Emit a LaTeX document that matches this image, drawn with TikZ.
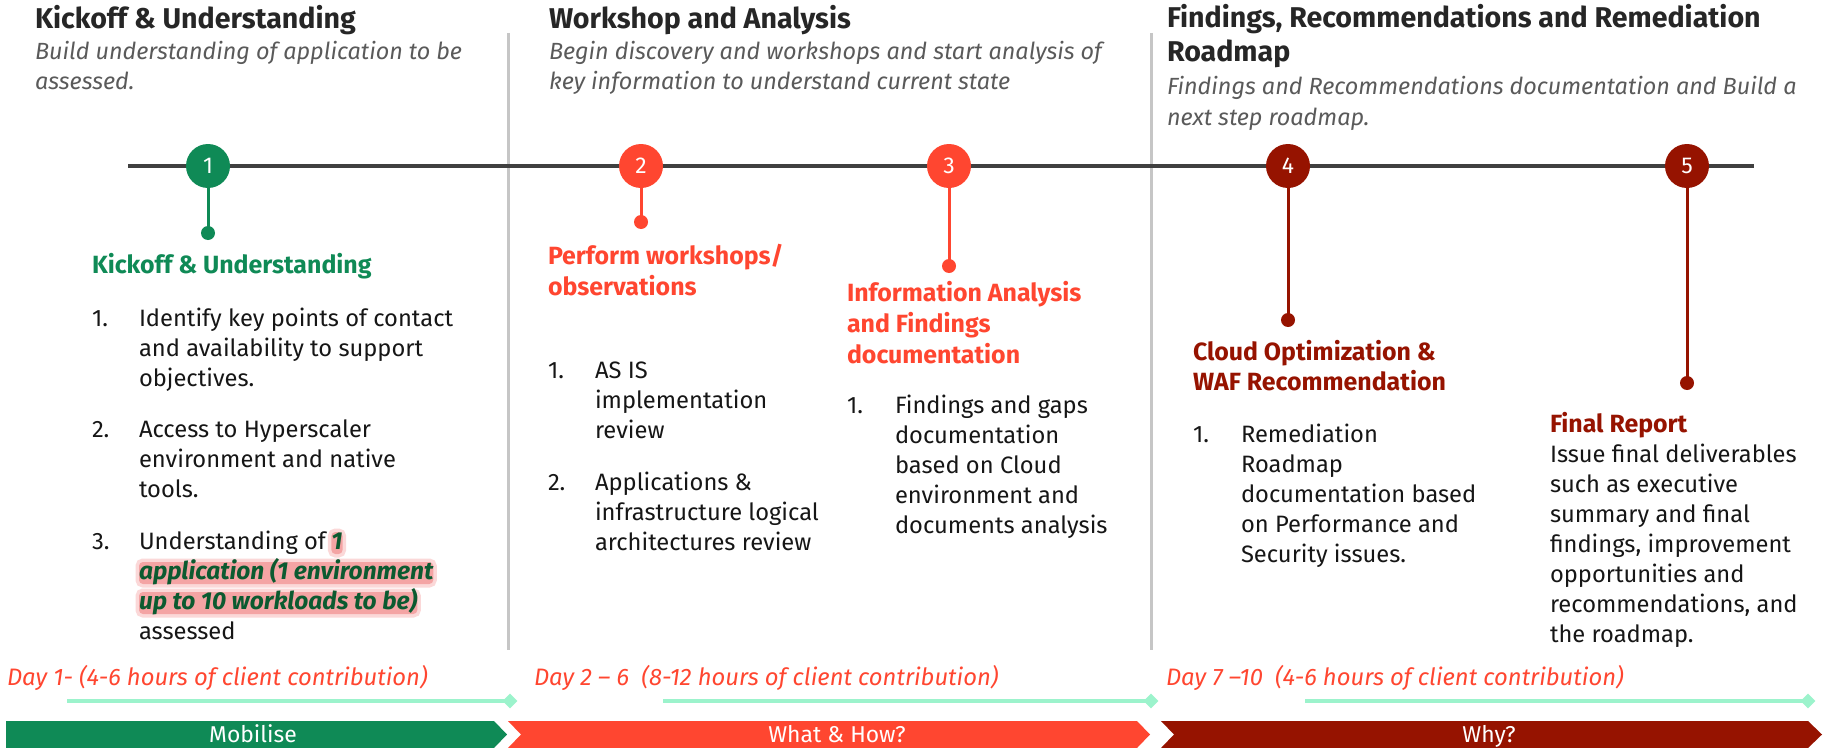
\documentclass[tikz,border=0pt]{standalone}
\usepackage{fontspec}
\setmainfont{Fira Sans}
\usetikzlibrary{shapes.geometric}
\definecolor{grn}{HTML}{0F8A56}
\definecolor{orng}{HTML}{FF4630}
\definecolor{dred}{HTML}{961300}
\definecolor{mint}{HTML}{9CF3CC}
\definecolor{ttlc}{HTML}{262626}
\definecolor{subc}{HTML}{5A5A5A}
\definecolor{bodyc}{HTML}{161616}
\definecolor{sepc}{HTML}{C6C6C6}
\definecolor{linec}{HTML}{404040}
\definecolor{hlgreen}{HTML}{0B5A30}
\definecolor{glowout}{HTML}{FBD8D8}
\definecolor{glowin}{HTML}{F4A4A4}
\newcommand\block[2]{\vtop{\baselineskip=#1bp\lineskiplimit=-1000pt\lineskip=0pt #2}}
\newcommand\li[1]{\hbox{#1}}
\begin{document}
\begin{tikzpicture}[x=1bp,y=-1bp,
  txt/.style={inner sep=0pt, outer sep=0pt, anchor=base west},
  ttl/.style={txt, font=\fontsize{28.7}{34}\selectfont\bfseries, text=ttlc},
  sub/.style={txt, font=\fontsize{23.5}{30}\selectfont\itshape, text=subc},
  hd/.style={txt, font=\fontsize{25}{30}\selectfont\bfseries},
  body/.style={txt, font=\fontsize{23.8}{30}\selectfont, text=bodyc},
  hl/.style={txt, font=\fontsize{24.6}{30}\selectfont\bfseries\itshape, text=hlgreen,
    text height=17bp, text depth=5bp, fill=glowin, rounded corners=4bp,
    preaction={draw=glowout, fill=glowout, line width=7bp, rounded corners=6bp}},
  day/.style={txt, font=\fontsize{23.9}{30}\selectfont\itshape, text=orng},
  ms/.style={circle, minimum size=44bp, inner sep=0pt, text=white, font=\fontsize{23}{23}\selectfont},
  dotn/.style={circle, minimum size=14bp, inner sep=0pt},
  stem/.style={line width=3bp},
  sepl/.style={line width=3bp, draw=sepc},
  mintl/.style={line width=4bp, draw=mint},
  mdia/.style={diamond, fill=mint, minimum size=15bp, inner sep=0pt},
  barlab/.style={inner sep=0pt, text=white, font=\fontsize{23}{22}\selectfont, anchor=base}]
\useasboundingbox (0,0) rectangle (1825,748);
\fill[white] (0,0) rectangle (1825,748);

% separators
\coordinate (sa1) at (508,33); \coordinate (sb1) at (508,650);
\coordinate (sa2) at (1151,33); \coordinate (sb2) at (1151,650);
\draw[sepl] (sa1) -- (sb1);
\draw[sepl] (sa2) -- (sb2);

% timeline
\coordinate (tla) at (128,166); \coordinate (tlb) at (1754,166);
\draw[line width=3.5bp, linec] (tla) -- (tlb);

% milestones
\node[dotn, fill=grn] (d1) at (208,233) {};
\node[dotn, fill=orng] (d2) at (641,222) {};
\node[dotn, fill=orng] (d3) at (949,266) {};
\node[dotn, fill=dred] (d4) at (1288,320) {};
\node[dotn, fill=dred] (d5) at (1687,383) {};
\node[ms, fill=grn] (m1) at (208,166) {1};
\node[ms, fill=orng] (m2) at (641,166) {2};
\node[ms, fill=orng] (m3) at (949,166) {3};
\node[ms, fill=dred] (m4) at (1288,166) {4};
\node[ms, fill=dred] (m5) at (1687,166) {5};
\draw[stem, grn] (m1) -- (d1.center);
\draw[stem, orng] (m2) -- (d2.center);
\draw[stem, orng] (m3) -- (d3.center);
\draw[stem, dred] (m4) -- (d4.center);
\draw[stem, dred] (m5) -- (d5.center);

% section titles
\node[ttl] (t1) at (35,29) {Kickoff \& Understanding};
\node[sub] (s1) at (35,60) {\block{30}{\li{Build understanding of application to be}\li{assessed.}}};
\node[ttl] (t2) at (549,29) {Workshop and Analysis};
\node[sub] (s2) at (549,60) {\block{30}{\li{Begin discovery and workshops and start analysis of}\li{key information to understand current state}}};
\node[ttl] (t3) at (1167,28) {\block{34}{\li{Findings, Recommendations and Remediation}\li{Roadmap}}};
\node[sub] (s3) at (1167,94) {\block{31}{\li{Findings and Recommendations documentation and Build a}\li{next step roadmap.}}};

% column 1
\node[hd, text=grn] (h1) at (92,273) {Kickoff \& Understanding};
\node[body] (n11) at (92,326) {1.};
\node[body] (b11) at (139,326) {\block{30}{\li{Identify key points of contact}\li{and availability to support}\li{objectives.}}};
\node[body] (n12) at (92,437) {2.};
\node[body] (b12) at (139,437) {\block{30}{\li{Access to Hyperscaler}\li{environment and native}\li{tools.}}};
\node[body] (n13) at (92,549) {3.};
\node[body] (b13a) at (139,549) {Understanding of};
\node[hl] (b13b) at ([xshift=5.5bp]b13a.base east) {1};
\node[hl] (b13c) at (139,579) {application (1 environment};
\node[hl] (b13d) at (139,609) {up to 10 workloads to be)};
\node[body] (b13e) at (139,639) {assessed};

% column 2
\node[hd, text=orng] (h2) at (548,264) {\block{31}{\li{Perform workshops/}\li{observations}}};
\node[body] (n21) at (548,378) {1.};
\node[body] (b21) at (595,378) {\block{30}{\li{AS IS}\li{implementation}\li{review}}};
\node[body] (n22) at (548,490) {2.};
\node[body] (b22) at (595,490) {\block{30}{\li{Applications \&}\li{infrastructure logical}\li{architectures review}}};

% column 3
\node[hd, text=orng] (h3) at (847,301) {\block{31}{\li{Information Analysis}\li{and Findings}\li{documentation}}};
\node[body] (n31) at (847,413) {1.};
\node[body] (b31) at (895,413) {\block{30}{\li{Findings and gaps}\li{documentation}\li{based on Cloud}\li{environment and}\li{documents analysis}}};

% column 4
\node[hd, text=dred] (h4) at (1193,360) {\block{30}{\li{Cloud Optimization \&}\li{WAF Recommendation}}};
\node[body] (n41) at (1193,442) {1.};
\node[body] (b41) at (1241,442) {\block{30}{\li{Remediation}\li{Roadmap}\li{documentation based}\li{on Performance and}\li{Security issues.}}};

% column 5
\node[body] (b5) at (1550,432) {\block{30}{\li{\fontsize{25}{30}\selectfont\bfseries\color{dred}Final Report}\li{Issue final deliverables}\li{such as executive}\li{summary and final}\li{findings, improvement}\li{opportunities and}\li{recommendations, and}\li{the roadmap.}}};

% durations
\node[day] (y1) at (7,685) {Day 1- (4-6 hours of client contribution)};
\node[day] (y2) at (534,685) {Day 2 – 6~ (8-12 hours of client contribution)};
\node[day] (y3) at (1166,685) {Day 7 –10~ (4-6 hours of client contribution)};
\coordinate (ma1) at (67,701); \node[mdia] (mb1) at (510,701) {};
\coordinate (ma2) at (663,701); \node[mdia] (mb2) at (1151,701) {};
\coordinate (ma3) at (1305,701); \node[mdia] (mb3) at (1808,701) {};
\draw[mintl] (ma1) -- (mb1.center);
\draw[mintl] (ma2) -- (mb2.center);
\draw[mintl] (ma3) -- (mb3.center);

% phase bars
\fill[grn] (6,721) -- (494,721) -- (507,734.5) -- (494,748) -- (6,748) -- cycle;
\fill[orng] (508,721) -- (1137,721) -- (1150,734.5) -- (1137,748) -- (508,748) -- (521,734.5) -- cycle;
\fill[dred] (1161,721) -- (1808,721) -- (1822,734.5) -- (1808,748) -- (1161,748) -- (1174,734.5) -- cycle;
\node[barlab] (p1) at (253,742) {Mobilise};
\node[barlab] (p2) at (837,742) {What \& How?};
\node[barlab] (p3) at (1489,742) {Why?};
\end{tikzpicture}
\end{document}
